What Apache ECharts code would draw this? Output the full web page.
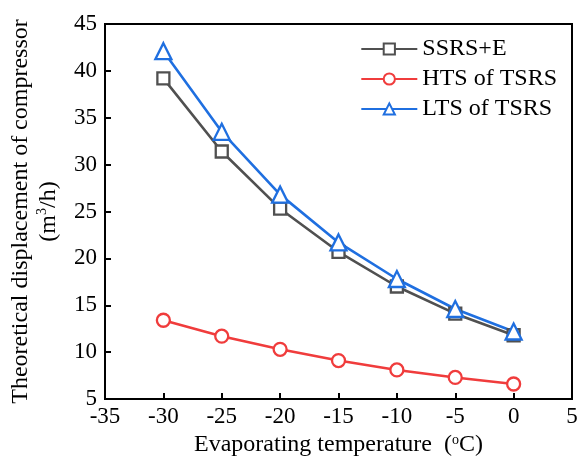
<!DOCTYPE html>
<html><head><meta charset="utf-8">
<script src="https://cdn.jsdelivr.net/npm/echarts@6/dist/echarts.min.js"></script>
<style>html,body{margin:0;padding:0;background:#fff}#c{width:580px;height:457px}</style>
</head><body><div id="c"></div>
<script>
const temps = [-30, -25, -20, -15, -10, -5, 0];
const ssrsE = [39.2, 31.4, 25.3, 20.7, 17.0, 14.1, 11.8];
const htsTSRS = [13.4, 11.7, 10.3, 9.1, 8.1, 7.3, 6.6];
const ltsTSRS = [42.1, 33.5, 26.8, 21.7, 17.8, 14.6, 12.2];
const seriesNames = ['SSRS+E', 'HTS of TSRS', 'LTS of TSRS'];
const colors = ['#505050', '#f03c3c', '#1f6fe0'];
const symbols = ['rect', 'circle', 'triangle'];
const symbolSizes = [12, 13, 16];
const font = 'Liberation Serif, Times New Roman, serif';
const fs = 23;
const nfs = 24;

const chart = echarts.init(document.getElementById('c'));
const datas = [ssrsE, htsTSRS, ltsTSRS];
const supStyle = {fontSize: 14, verticalAlign: 'top', padding: [0, 0, 10, 0], fontFamily: font, color: '#000'};
chart.setOption({
  animation: false,
  grid: {left: 105, right: 8, top: 24, bottom: 58, show: true, borderColor: '#000', borderWidth: 2, outerBoundsMode: 'none', containLabel: false},
  legend: {
    right: 18, top: 32, orient: 'vertical', itemGap: 6,
    itemWidth: 56, itemHeight: 14, align: 'left',
    textStyle: {fontFamily: font, fontSize: 24, color: '#000'},
    data: seriesNames
  },
  xAxis: {
    type: 'value', min: -35, max: 5, interval: 5,
    name: 'Evaporating temperature  ({s|o}C)', nameLocation: 'middle', nameGap: 28,
    nameTextStyle: {fontFamily: font, fontSize: nfs, color: '#000', rich: {s: supStyle}},
    axisLine: {onZero: false, lineStyle: {color: '#000', width: 2}},
    axisTick: {inside: true, length: 6, lineStyle: {color: '#000', width: 2}},
    axisLabel: {fontFamily: font, fontSize: fs, color: '#000', margin: 6},
    splitLine: {show: false}
  },
  yAxis: {
    type: 'value', min: 5, max: 45, interval: 5,
    name: 'Theoretical displacement of compressor\n(m{s|3}/h)', nameLocation: 'middle', nameGap: 41,
    nameTextStyle: {fontFamily: font, fontSize: nfs, color: '#000', lineHeight: 28, rich: {s: supStyle}},
    axisLine: {onZero: false, lineStyle: {color: '#000', width: 2}},
    axisTick: {inside: true, length: 6, lineStyle: {color: '#000', width: 2}},
    axisLabel: {fontFamily: font, fontSize: fs, color: '#000', margin: 8},
    splitLine: {show: false}
  },
  series: seriesNames.map((n, i) => ({
    name: n, type: 'line',
    data: temps.map((t, j) => [t, datas[i][j]]),
    symbol: symbols[i], symbolSize: symbolSizes[i],
    itemStyle: {color: '#fff', borderColor: colors[i], borderWidth: 2.3},
    lineStyle: {color: colors[i], width: 2.6},
    z: i === 1 ? 2 : 3
  }))
});
</script></body></html>
